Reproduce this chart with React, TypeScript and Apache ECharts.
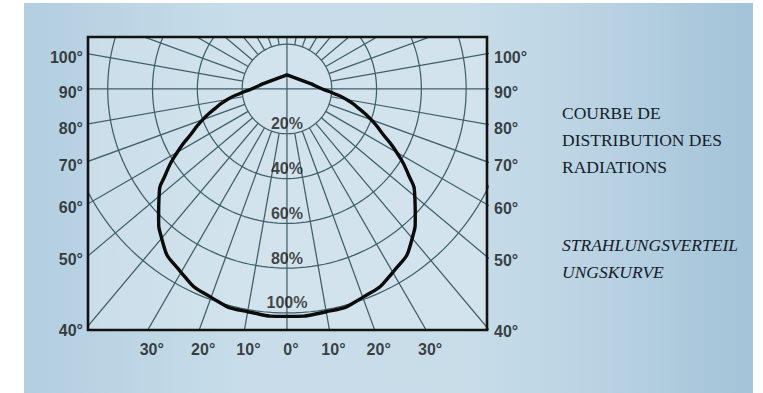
import React, { useEffect, useRef } from "react";
import * as echarts from "echarts";

// ---- data ----
// curve: relative radiation (%) vs angle from the downward vertical (symmetric)
const curveAngles = [0, 10, 20, 30, 40, 45, 50, 55, 60, 65, 70, 75, 80, 85, 90, 100, 180];
const curveIntensity = [101.5, 101, 99, 94.5, 87, 81, 74.5, 66, 56.5, 47, 40, 33, 27, 20.5, 15.8, 11.6, 6.3];

// polar grid
const ringLevels = [20, 40, 60, 80, 100];
const ringLabels = ["20%", "40%", "60%", "80%", "100%"];
const spokeAngles = [0, 10, 20, 30, 40, 50, 60, 70, 80, 90, 100, 110, 120, 130, 140, 150, 160, 170,
  180, 190, 200, 210, 220, 230, 240, 250, 260, 270, 280, 290, 300, 310, 320, 330, 340, 350];
const fullSpokes = [0, 90, 180, 270];

// tick labels
const sideAngles = [100, 90, 80, 70, 60, 50, 40];
const sideLabels = ["100°", "90°", "80°", "70°", "60°", "50°", "40°"];
const bottomAngles = [-30, -20, -10, 0, 10, 20, 30];
const bottomLabels = ["30°", "20°", "10°", "0°", "10°", "20°", "30°"];

// texts
const titleFr = ["COURBE DE", "DISTRIBUTION DES", "RADIATIONS"];
const titleDe = ["STRAHLUNGSVERTEIL", "UNGSKURVE"];

// ---- geometry helpers ----
const X_MIN = -88.8, X_MAX = 89.3, Y_MIN = -107.6, Y_MAX = 23.2;
const rad = (d: number) => (d * Math.PI) / 180;
const toXY = (r: number, a: number): [number, number] => [r * Math.sin(rad(a)), -r * Math.cos(rad(a))];

const GRID = "#3e5f68";
const INK = "#111315";

export default function App() {
  const ref = useRef<HTMLDivElement>(null);
  useEffect(() => {
    document.body.style.margin = "0";
    const chart = echarts.init(ref.current!, undefined, { renderer: "svg" });

    const series: any[] = [];
    // rings
    ringLevels.forEach((r) => {
      const pts: [number, number][] = [];
      for (let a = 0; a <= 360; a += 2) pts.push(toXY(r, a));
      series.push({
        type: "line", data: pts, showSymbol: false, silent: true, clip: true, z: 2,
        lineStyle: { color: GRID, width: 1.25 },
      });
    });
    // spokes
    spokeAngles.forEach((a) => {
      const r0 = fullSpokes.includes(a) ? 0 : ringLevels[0];
      series.push({
        type: "line", data: [toXY(r0, a), toXY(220, a)], showSymbol: false, silent: true, clip: true, z: 2,
        lineStyle: { color: GRID, width: 1.25 },
      });
    });
    // curve: smooth lower body, straight roof up to the sharp peak
    const iOf = (a: number) => curveIntensity[curveAngles.indexOf(a)];
    const body = curveAngles.filter((a) => a <= 100);
    const bodyPts = [
      ...body.slice().reverse().map((a) => toXY(iOf(a), -a)),
      ...body.slice(1).map((a) => toXY(iOf(a), a)),
    ];
    const curveStyle = { color: "#0b0b0b", width: 3.4, join: "round", cap: "round" };
    series.push({
      type: "line", data: bodyPts, smooth: 0.6, showSymbol: false, silent: true, clip: true, z: 5,
      lineStyle: curveStyle,
    });
    series.push({
      type: "line", data: [toXY(iOf(100), -100), toXY(iOf(180), 180), toXY(iOf(100), 100)],
      showSymbol: false, silent: true, clip: true, z: 5, lineStyle: curveStyle,
    });
    // ring labels
    series.push({
      type: "scatter", silent: true, clip: false, symbolSize: 0, z: 6,
      data: ringLevels.map((r, i) => ({ value: [0, -r], name: ringLabels[i] })),
      label: {
        show: true, position: "top", distance: 2, formatter: (p: any) => p.name,
        fontFamily: "Liberation Sans, Arial, sans-serif", fontWeight: "bold", fontSize: 16, color: "#1a1a1a",
      },
    });
    const tickLabelStyle = {
      fontFamily: "Liberation Sans, Arial, sans-serif", fontWeight: "bold", fontSize: 16, color: INK,
    };
    // left / right angle labels (where each spoke meets the side walls)
    series.push({
      type: "scatter", silent: true, clip: false, symbolSize: 0, z: 6,
      data: sideAngles.map((a, i) => ({ value: [X_MIN, X_MIN * Math.cos(rad(a)) / Math.sin(rad(a))], name: sideLabels[i] })),
      label: { show: true, position: "left", distance: 5, offset: [0, 4], formatter: (p: any) => p.name, ...tickLabelStyle },
    });
    series.push({
      type: "scatter", silent: true, clip: false, symbolSize: 0, z: 6,
      data: sideAngles.map((a, i) => ({ value: [X_MAX, -X_MAX * Math.cos(rad(a)) / Math.sin(rad(a))], name: sideLabels[i] })),
      label: { show: true, position: "right", distance: 7, offset: [0, 4], formatter: (p: any) => p.name, ...tickLabelStyle },
    });
    // bottom angle labels
    series.push({
      type: "scatter", silent: true, clip: false, symbolSize: 0, z: 6,
      data: bottomAngles.map((a, i) => ({ value: [-Y_MIN * Math.tan(rad(a)), Y_MIN], name: bottomLabels[i] })),
      label: { show: true, position: "bottom", distance: 11, offset: [4, 0], formatter: (p: any) => p.name, ...tickLabelStyle },
    });

    const serif = "Liberation Serif, 'Times New Roman', serif";
    const graphics: any[] = [
      {
        type: "rect", z: -10, silent: true,
        shape: { x: 24, y: 3, width: 729, height: 390 },
        style: {
          fill: new echarts.graphic.LinearGradient(0, 0, 1, 0, [
            { offset: 0, color: "#b2cee0" },
            { offset: 0.3, color: "#c8dde9" },
            { offset: 0.6, color: "#c9dde9" },
            { offset: 0.8, color: "#b8d2e2" },
            { offset: 1, color: "#a3c3d8" },
          ]),
        },
      },
      {
        type: "rect", z: -9, silent: true,
        shape: { x: 88, y: 37, width: 399, height: 293 },
        style: { fill: "rgba(225,236,242,0.45)" },
      },
      ...titleFr.map((t, i) => ({
        type: "text", z: 10, silent: true, x: 562, y: 113 + i * 27,
        style: { text: t, font: `17.5px ${serif}`, fill: "#15202a", verticalAlign: "middle" },
      })),
      ...titleDe.map((t, i) => ({
        type: "text", z: 10, silent: true, x: 562, y: 245 + i * 27,
        style: { text: t, font: `italic 17.5px ${serif}`, fill: "#15202a", verticalAlign: "middle" },
      })),
    ];

    chart.setOption({
      animation: false,
      grid: {
        left: 88, top: 37, width: 399, height: 293, show: true,
        borderColor: "#121212", borderWidth: 2.6, backgroundColor: "transparent", z: 8,
      },
      xAxis: { type: "value", min: X_MIN, max: X_MAX, show: false, splitLine: { show: false } },
      yAxis: { type: "value", min: Y_MIN, max: Y_MAX, show: false, splitLine: { show: false } },
      graphic: graphics,
      series,
    });
    return () => chart.dispose();
  }, []);
  return <div ref={ref} style={{ width: 763, height: 393, background: "#ffffff" }} />;
}
